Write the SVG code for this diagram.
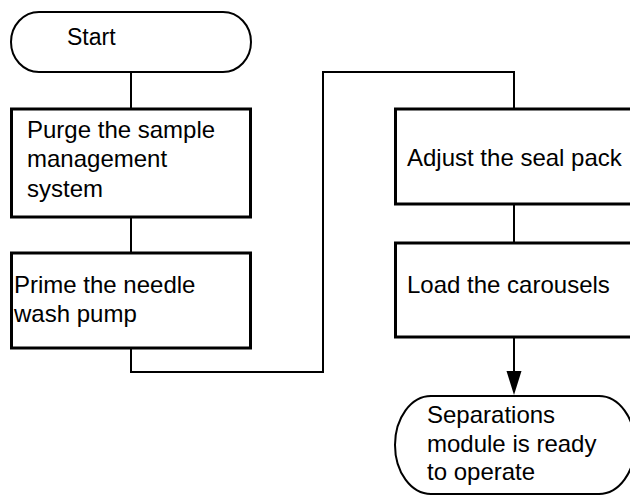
<svg xmlns="http://www.w3.org/2000/svg" width="630" height="496" viewBox="0 0 630 496">
<style>
.term{fill:#fff;stroke:#000;stroke-width:2}
.box{fill:#fff;stroke:#000;stroke-width:3}
.conn{fill:none;stroke:#000;stroke-width:2}
text{font-family:"Liberation Sans",Arial,sans-serif;font-size:24px;fill:#000}
</style>
<g id="connectors">
<line class="conn" x1="131" y1="72" x2="131" y2="108"/>
<line class="conn" x1="131" y1="218" x2="131" y2="252"/>
<polyline class="conn" points="131,348 131,372 323,372 323,72 514,72 514,108"/>
<line class="conn" x1="514" y1="204" x2="514" y2="243"/>
<path d="M514,337 L514,372" class="conn"/>
<path d="M506.5,371 L521.5,371 L514,395 Z" fill="#000"/>
</g>
<g id="start">
<rect class="term" x="11" y="12" width="240" height="60" rx="28" ry="30"/>
<text x="67" y="45" style="font-size:23px">Start</text>
</g>
<g id="purge">
<rect class="box" x="11.5" y="109" width="239" height="108"/>
<text x="27" y="138">Purge the sample</text>
<text x="27" y="167">management</text>
<text x="27" y="197">system</text>
</g>
<g id="prime">
<rect class="box" x="11.5" y="253" width="239" height="95"/>
<text x="14" y="293">Prime the needle</text>
<text x="14" y="322">wash pump</text>
</g>
<g id="adjust">
<rect class="box" x="395.5" y="109" width="240" height="95"/>
<text x="407" y="166">Adjust the seal pack</text>
</g>
<g id="load">
<rect class="box" x="395.5" y="243" width="240" height="94"/>
<text x="407" y="293">Load the carousels</text>
</g>
<g id="end">
<rect class="term" x="395" y="396" width="240" height="98" rx="36" ry="49"/>
<text x="427" y="423">Separations</text>
<text x="427" y="452">module is ready</text>
<text x="427" y="480">to operate</text>
</g>
</svg>
